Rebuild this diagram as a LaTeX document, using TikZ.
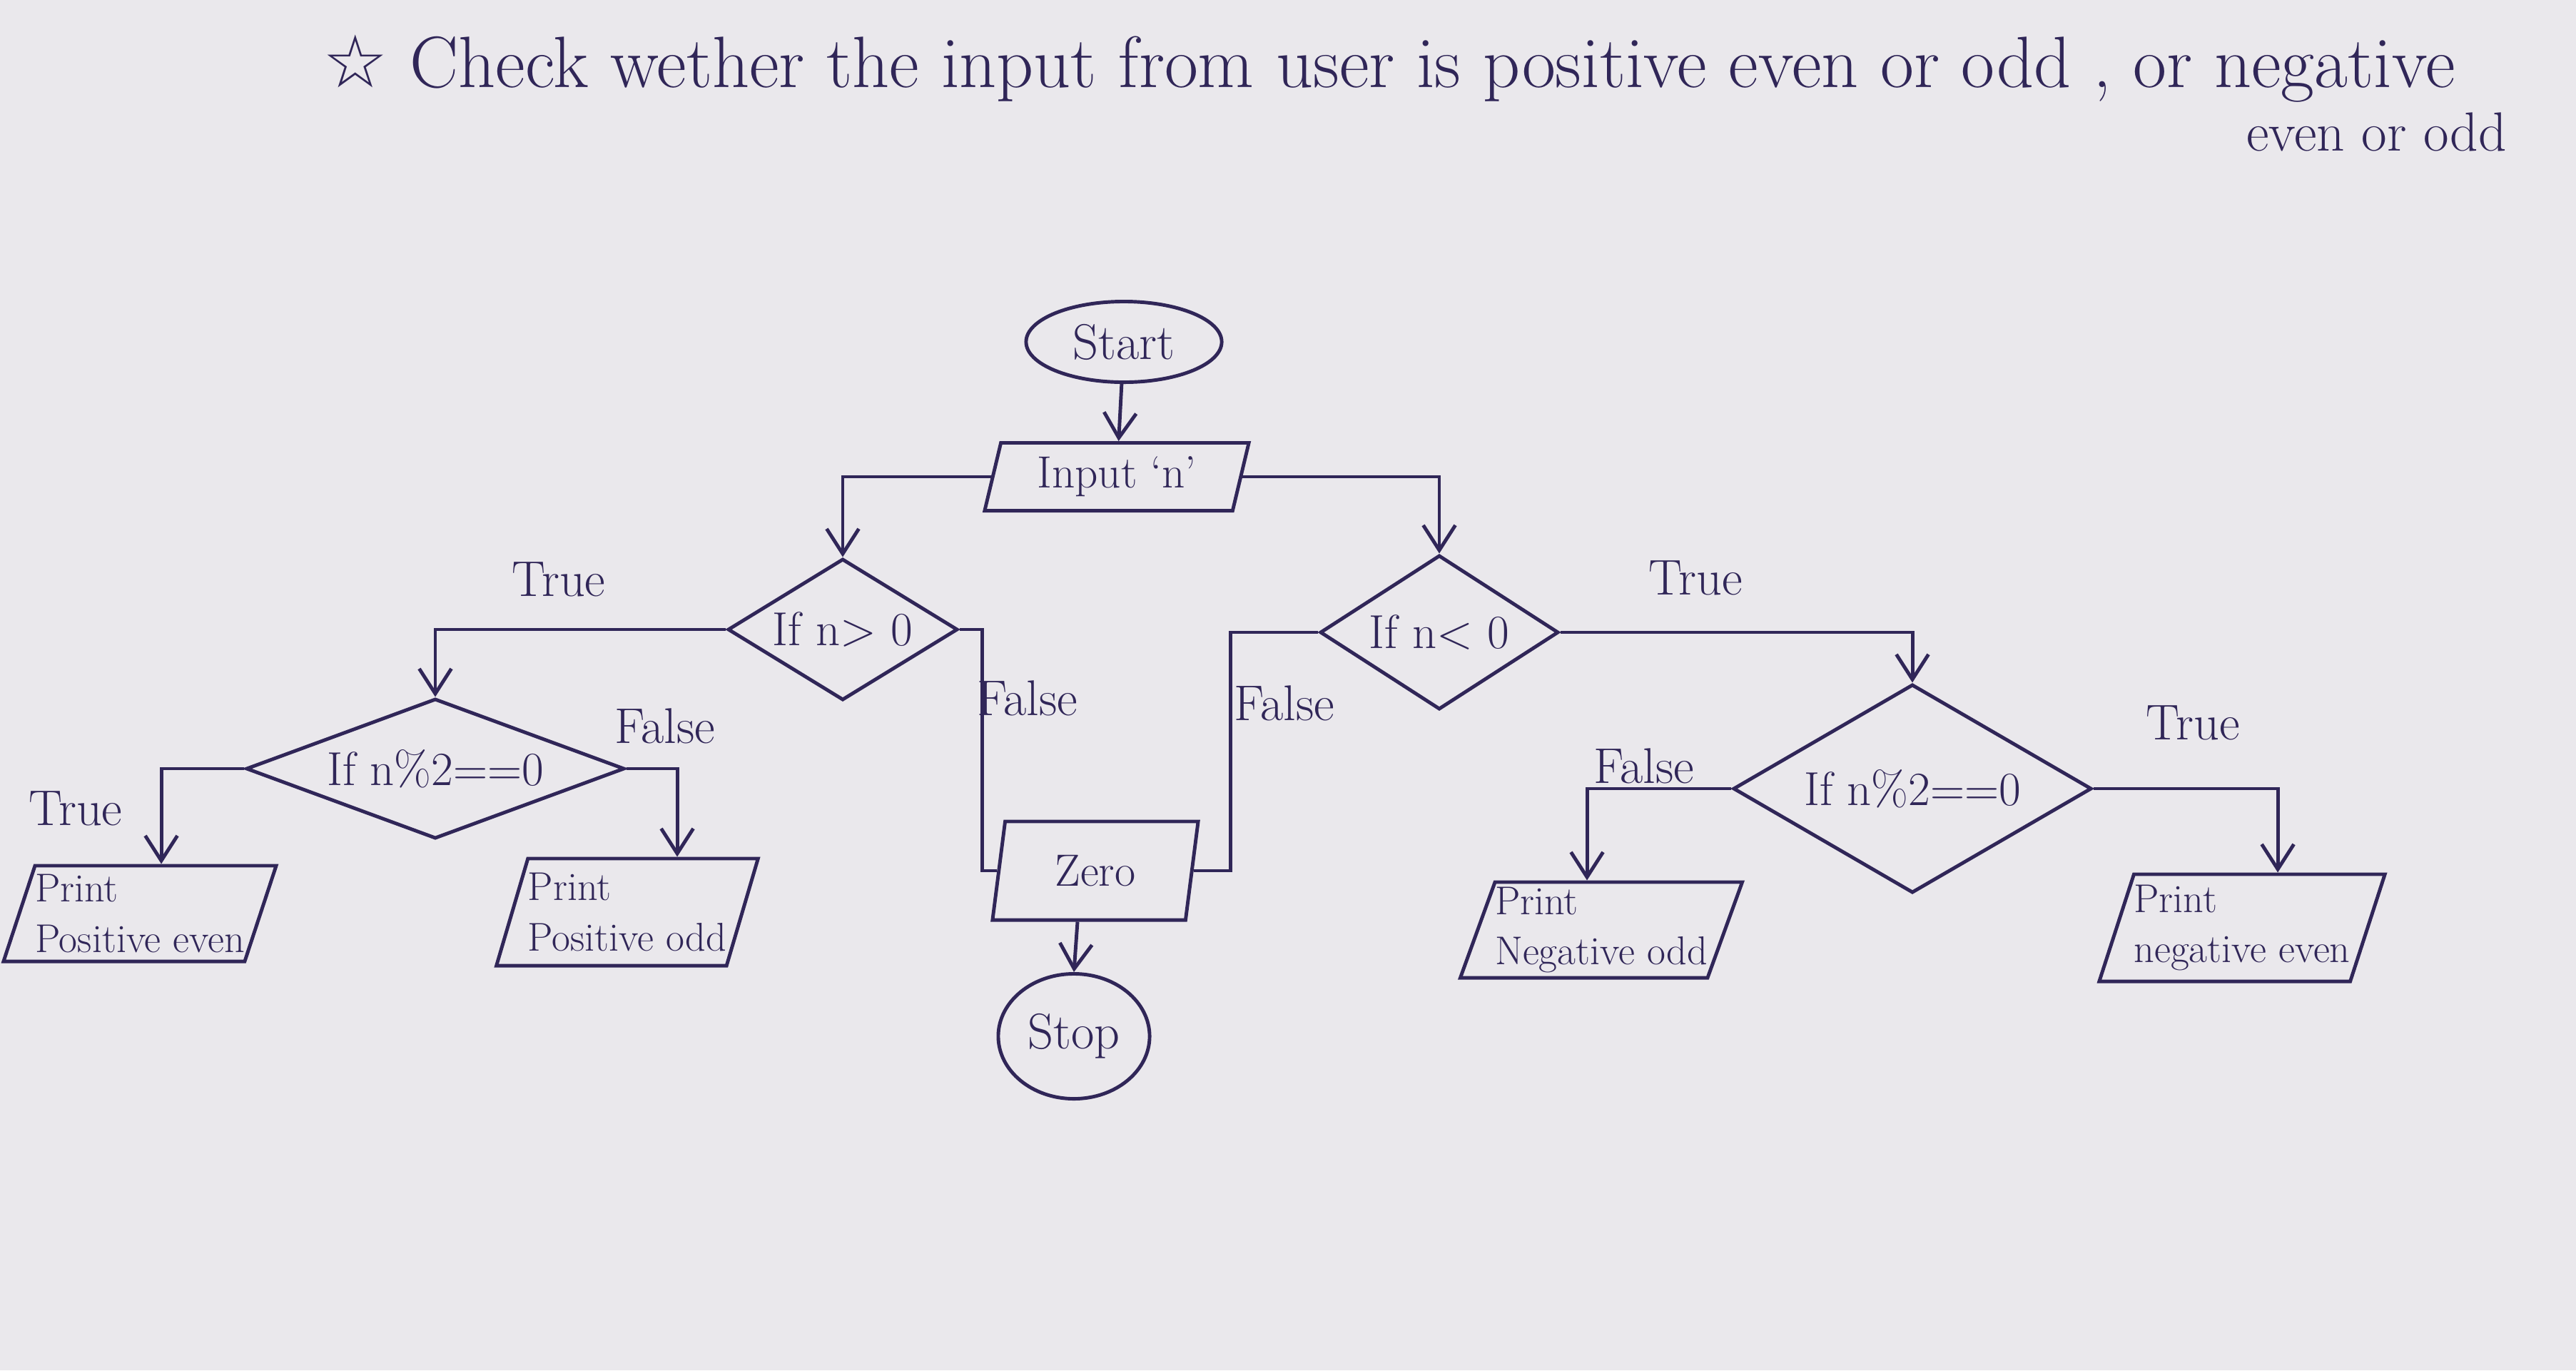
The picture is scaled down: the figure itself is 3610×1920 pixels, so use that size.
\documentclass[tikz,border=0pt]{standalone}
\usepackage{fontspec}
\usetikzlibrary{shapes.geometric,arrows.meta,calc}
\newfontfamily\symfont{DejaVu Sans}
\definecolor{paper}{RGB}{234,232,236}
\definecolor{inkc}{RGB}{48,38,88}
\begin{document}
\begin{tikzpicture}[x=0.01cm,y={(0cm,-0.01cm)},
  ink/.style={draw=inkc,line width=1.4pt},
  arr/.style={ink,-{Straight Barb[length=0.35cm,width=0.45cm,line width=1.4pt]}},
  line/.style={ink},
  term/.style={ellipse,ink,inner sep=0pt,text=inkc,font=\fontsize{20}{24}\selectfont},
  dec/.style={diamond,ink,inner sep=0pt,text=inkc,font=\fontsize{19}{22}\selectfont},
  io/.style={trapezium,trapezium left angle=68,trapezium right angle=112,trapezium stretches body,ink,inner sep=0pt,text=inkc,font=\fontsize{18}{21}\selectfont},
  pbox/.style={io,align=left,font=\fontsize{16}{20}\selectfont},
  lab/.style={text=inkc,font=\fontsize{20}{24}\selectfont},
  ttl/.style={text=inkc,font=\fontsize{29}{35}\selectfont},
  ttlb/.style={text=inkc,font=\fontsize{22}{27}\selectfont}]
\fill[paper] (0,0) rectangle (3610,1920);
\useasboundingbox (0,0) rectangle (3610,1920);

% title
\node[ttl,anchor=west] (title1) at (440,96) {{\symfont ☆} Check wether the input from user is positive even or odd , or negative};
\node[ttlb,anchor=east] (title2) at (3525,185) {even or odd};

% nodes
\node[term,minimum width=2.74cm,minimum height=1.13cm] (start) at (1575,479) {Start};
\node[io,minimum width=3.7cm,minimum height=0.95cm] (inp) at (1565,668) {Input `n'};
\node[dec,minimum width=3.22cm,minimum height=1.98cm,aspect=1.6] (d1) at (1181,882) {If n> 0};
\node[dec,minimum width=3.34cm,minimum height=2.16cm,aspect=1.55] (d2) at (2017,886) {If n< 0};
\node[dec,minimum width=5.3cm,minimum height=1.96cm,aspect=2.7] (d3) at (610,1077) {If n\%2==0};
\node[dec,minimum width=5.02cm,minimum height=2.92cm,aspect=1.7] (d4) at (2680,1105) {If n\%2==0};
\node[pbox,minimum width=3.57cm,minimum height=1.34cm] (pe) at (196,1280) {Print\\Positive even};
\node[pbox,minimum width=3.45cm,minimum height=1.5cm] (po) at (879,1278) {Print\\Positive odd};
\node[io,minimum width=2.88cm,minimum height=1.38cm] (zero) at (1535,1220) {Zero};
\node[term,minimum width=2.12cm,minimum height=1.75cm] (stop) at (1505,1452) {Stop};
\node[pbox,minimum width=3.45cm,minimum height=1.34cm] (pn) at (2244,1303) {Print\\Negative odd};
\node[pbox,minimum width=3.68cm,minimum height=1.5cm] (pne) at (3142,1300) {Print\\negative even};

% labels
\node[lab] (t1) at (783,812) {True};
\node[lab] (f1) at (1440,978) {False};
\node[lab] (f2) at (1800,985) {False};
\node[lab] (t2) at (2376,810) {True};
\node[lab] (t3) at (106,1133) {True};
\node[lab] (f3) at (932,1017) {False};
\node[lab] (f4) at (2304,1073) {False};
\node[lab] (t4) at (3073,1013) {True};

% connectors
\draw[arr] (start) -- (inp);
\draw[arr] (inp.west) -| (d1.north);
\draw[arr] (inp.east) -| (d2.north);
\draw[arr] (d1.west) -| (d3.north);
\draw[arr] (d3.west) -| ([xshift=0.3cm]pe.north);
\draw[arr] (d3.east) -| ([xshift=0.7cm]po.north);
\draw[line] (d1.east) -- ++(32,0) |- (zero.west);
\draw[line] (d2.west) -- ++(-123,0) |- (zero.east);
\draw[arr] ([xshift=-0.25cm]zero.south) -- (stop.north);
\draw[arr] (d2.east) -| (d4.north);
\draw[arr] (d4.west) -| ([xshift=-0.2cm]pn.north);
\draw[arr] (d4.east) -| ([xshift=0.5cm]pne.north);
\end{tikzpicture}
\end{document}
